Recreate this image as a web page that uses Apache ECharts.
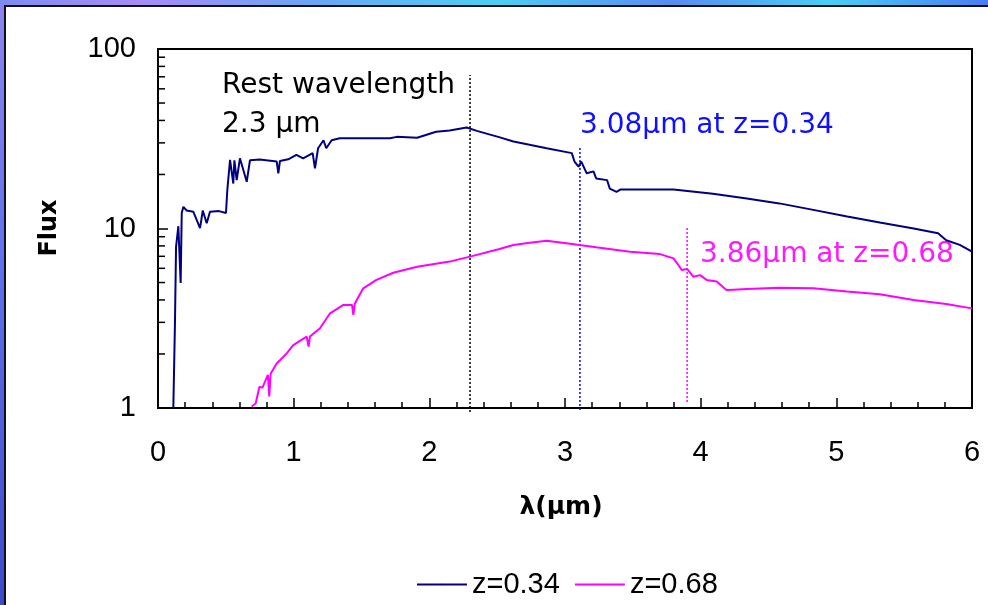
<!DOCTYPE html>
<html>
<head>
<meta charset="utf-8">
<script src="https://cdn.jsdelivr.net/npm/echarts@6/dist/echarts.min.js"></script>
<style>
  body { margin:0; width:988px; height:605px; overflow:hidden; position:relative;
         background: linear-gradient(180deg, #8c84f0 0%, #6070ea 45%, #4048c8 100%); }
  #band { position:absolute; left:0; top:0; width:988px; height:5px;
          background: linear-gradient(90deg, #7c8cf0 0%, #a88af5 14%, #6aa6f5 32%, #4ccff2 50%, #5a8cf0 68%, #48cff5 84%, #4c7cf0 100%); }
  #paper { position:absolute; left:4px; top:5px; right:0; bottom:0; background:#fff;
           border-left:2px solid #111; border-top:2px solid #111; }
  #chart { position:absolute; left:0; top:0; width:988px; height:605px; }
</style>
</head>
<body>
<div id="band"></div>
<div id="paper"></div>
<div id="chart"></div>
<script>
// spectra: wavelength (um) / flux
var z034_x = [0.113, 0.125, 0.133, 0.150, 0.162, 0.167, 0.175, 0.187, 0.211, 0.26, 0.31, 0.33, 0.359, 0.383, 0.45, 0.501,
              0.511, 0.531, 0.555, 0.563, 0.58, 0.604, 0.654, 0.678, 0.75, 0.875, 0.887, 0.899, 0.96, 1.02, 1.07, 1.14,
              1.157, 1.18, 1.22, 1.24, 1.28, 1.34, 1.5, 1.71, 1.76, 1.91, 2.05, 2.15, 2.275, 2.35, 2.52, 2.62, 2.865,
              3.05, 3.07, 3.10, 3.12, 3.16, 3.21, 3.23, 3.31, 3.33, 3.38, 3.41, 3.6, 3.80, 4.09, 4.34, 4.58, 4.83,
              5.08, 5.32, 5.57, 5.75, 5.81, 5.91, 6.0];
var z034_y = [1.0, 2.97, 7.9, 10.3, 10.2, 4.97, 12.2, 13.2, 12.6, 12.4, 10.05, 12.6, 10.7, 12.4, 12.5, 12.2,
              16.4, 24.1, 17.8, 24.0, 18.6, 24.6, 18.2, 24.0, 24.2, 23.6, 20.3, 23.8, 24.3, 25.7, 24.6, 26.3,
              21.6, 28.0, 31.0, 28.0, 31.0, 31.8, 31.8, 31.8, 32.4, 32.0, 34.6, 35.2, 36.5, 35.0, 32.2, 30.5, 28.0,
              26.3, 23.6, 22.1, 23.6, 20.3, 20.8, 19.0, 18.6, 16.7, 16.0, 16.5, 16.5, 16.5, 15.6, 14.7, 13.8, 12.7,
              11.65, 10.8, 10.0, 9.4, 8.6, 8.1, 7.43];

var z068_x = [0.69, 0.72, 0.747, 0.77, 0.81, 0.82, 0.83, 0.875, 0.95, 0.997, 1.096, 1.11, 1.12, 1.194, 1.268, 1.366,
              1.43, 1.44, 1.45, 1.465, 1.513, 1.61, 1.734, 1.91, 2.15, 2.30, 2.51, 2.62, 2.74, 2.865, 3.01, 3.23,
              3.48, 3.70, 3.80, 3.836, 3.86, 3.90, 3.946, 3.995, 4.044, 4.118, 4.19, 4.24, 4.34, 4.58, 4.83, 5.08,
              5.32, 5.57, 5.81, 6.0];
var z068_y = [1.02, 1.06, 1.31, 1.3, 1.53, 1.16, 1.55, 1.77, 2.02, 2.24, 2.5, 2.2, 2.5, 2.78, 3.37, 3.75,
              3.75, 3.3, 3.8, 4.0, 4.64, 5.17, 5.67, 6.12, 6.54, 6.97, 7.66, 8.09, 8.33, 8.55, 8.27, 7.86,
              7.43, 7.2, 6.82, 6.26, 5.87, 5.95, 5.39, 5.5, 5.17, 5.06, 4.54, 4.56, 4.6, 4.68, 4.65, 4.45,
              4.3, 4.0, 3.8, 3.59];

// dotted guide lines: wavelength, bottom flux, top flux
var guide_x = [2.3, 3.11, 3.9];
var guide_lo = [0.95, 0.975, 1.08];
var guide_hi = [71.6, 28.6, 10.1];

var yTicks = [1, 10, 100];
var yMinor = [2, 3, 4, 5, 6, 7, 8, 9, 20, 30, 40, 50, 60, 70, 80, 90];

function pairs(xs, ys) {
    var out = [];
    for (var i = 0; i < xs.length; i++) out.push([xs[i], ys[i]]);
    return out;
}

var guideColors = ['#000000', '#0000ff', '#ff00ff'];
var series = [
    { name: 'z=0.34', type: 'line', symbol: 'none', data: pairs(z034_x, z034_y),
      lineStyle: { color: '#000080', width: 2 }, itemStyle: { color: '#000080' }, z: 3 },
    { name: 'z=0.68', type: 'line', symbol: 'none', data: pairs(z068_x, z068_y),
      lineStyle: { color: '#ff00ff', width: 2 }, itemStyle: { color: '#ff00ff' }, z: 3 }
];
guide_x.forEach(function (gx, i) {
    series.push({
        name: 'guide' + i, type: 'line', symbol: 'none', clip: false, silent: true,
        data: [[gx, guide_lo[i]], [gx, guide_hi[i]]],
        lineStyle: { color: guideColors[i], width: 1.5, type: [2, 2] }, z: 2
    });
});

var chart = echarts.init(document.getElementById('chart'));
chart.setOption({
    backgroundColor: 'transparent',
    animation: false,
    grid: { left: 158, right: 16, top: 49, bottom: 197, show: true, borderColor: '#000', borderWidth: 2 },
    legend: {
        data: ['z=0.34', 'z=0.68'],
        top: 565, left: 411,
        itemWidth: 50, itemHeight: 2, itemGap: 14,
        textStyle: { fontFamily: 'Liberation Sans', fontSize: 29, color: '#000' }
    },
    xAxis: {
        type: 'value', min: 0, max: 6, interval: 1,
        axisLine: { lineStyle: { color: '#000', width: 2 } },
        axisTick: { inside: true, length: 10, lineStyle: { color: '#000', width: 1.5 } },
        minorTick: { show: true, splitNumber: 5, length: 6, lineStyle: { color: '#000', width: 1.5 } },
        splitLine: { show: false },
        axisLabel: { fontFamily: 'Liberation Sans', fontSize: 29, color: '#000', margin: 30 }
    },
    yAxis: {
        type: 'log', logBase: 10, min: 1, max: 100,
        axisLine: { show: true, lineStyle: { color: '#000', width: 2 } },
        axisTick: { show: true, inside: true, length: 10, lineStyle: { color: '#000', width: 1.5 } },
        splitLine: { show: false },
        axisLabel: { fontFamily: 'Liberation Sans', fontSize: 29, color: '#000', margin: 22,
                     formatter: function (v) { return yTicks.indexOf(Math.round(v)) >= 0 ? String(Math.round(v)) : ''; } }
    },
    series: series
});

// log minor ticks on the y axis and the text annotations
var g = [];
yMinor.forEach(function (v) {
    var p = chart.convertToPixel({ gridIndex: 0 }, [0, v]);
    g.push({ type: 'line', shape: { x1: p[0], y1: p[1], x2: p[0] + 7, y2: p[1] },
             style: { stroke: '#000', lineWidth: 1.5 }, silent: true });
});
g.push({ type: 'text', x: 222, y: 66, style: { text: 'Rest wavelength\n2.3 \u03bcm', fill: '#000',
         font: '28px "DejaVu Sans"', lineHeight: 39 } });
g.push({ type: 'text', x: 580, y: 112, style: { text: '3.08\u03bcm at z=0.34', fill: '#1010ff',
         font: '28px "DejaVu Sans"' } });
g.push({ type: 'text', x: 700, y: 241, style: { text: '3.86\u03bcm at z=0.68', fill: '#ff19ff',
         font: '28px "DejaVu Sans"' } });
g.push({ type: 'text', x: 50, y: 228, rotation: Math.PI / 2, style: { text: 'Flux', fill: '#000',
         font: 'bold 24px "DejaVu Sans"', align: 'center', verticalAlign: 'middle' } });
g.push({ type: 'text', x: 561, y: 507, style: { text: '\u03bb(\u03bcm)', fill: '#000',
         font: 'bold 25px "DejaVu Sans"', align: 'center', verticalAlign: 'middle' } });
chart.setOption({ graphic: g });
</script>
</body>
</html>
